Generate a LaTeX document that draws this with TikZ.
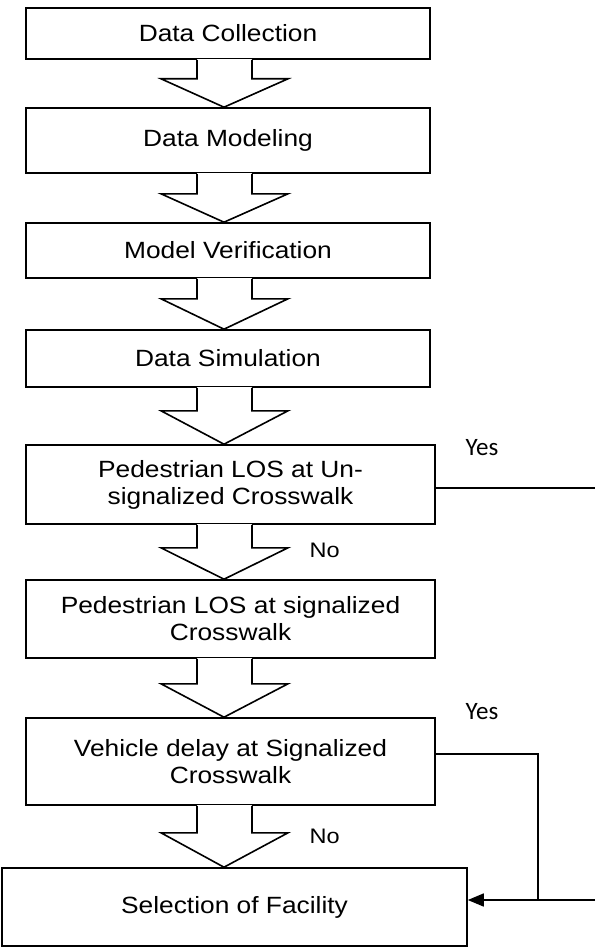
\documentclass[tikz,border=0pt]{standalone}
\usepackage{fontspec}
\setmainfont{Liberation Sans}[FakeStretch=1.12]
\newfontfamily\yesfont{Carlito}
\usetikzlibrary{arrows.meta,calc}
\tikzset{fat/.style={line width=1.6pt,line join=miter},
  flowbox/.style={draw,fat,inner sep=0pt,align=center,font=\fontsize{23.5}{27}\selectfont},
  yeslbl/.style={font=\yesfont\fontsize{25}{25}\selectfont},
  nolbl/.style={font=\fontsize{21}{21}\selectfont,anchor=west}
}
% hollow block arrow from box #1 down to box #2, shaft length #3
\newcommand{\fatarrow}[3]{%
  \path (197,0 |- #1.south) ++(0,#3) coordinate (sh);
  \fill[white] ($(197,0 |- #1.south)+(0,-1.2)$) rectangle (252,0 |- sh);
  \draw[fat] (197,0 |- #1.south) -- (sh) -- (161,0 |- sh) -- (224,0 |- #2.north)
    -- (288,0 |- sh) -- (252,0 |- sh) -- (252,0 |- #1.south);
}

\begin{document}
\begin{tikzpicture}[x=1pt,y=-1pt]
\useasboundingbox[fill=white] (0,0) rectangle (595,952);

% Boxes
\node[flowbox,minimum width=404,minimum height=51] (coll) at (228,33.5) {Data Collection};
\node[flowbox,minimum width=404,minimum height=65] (model) at (228,140.5) {Data Modeling};
\node[flowbox,minimum width=404,minimum height=55] (verif) at (228,250.5) {Model Verification};
\node[flowbox,minimum width=404,minimum height=57] (simul) at (228,358.5) {Data Simulation};
\node[flowbox,minimum width=409,minimum height=79] (unsig) at (230.5,484.5) {Pedestrian LOS at Un-\\signalized Crosswalk};
\node[flowbox,minimum width=409,minimum height=78] (sig) at (230.5,619) {Pedestrian LOS at signalized\\Crosswalk};
\node[flowbox,minimum width=409,minimum height=87] (veh) at (230.5,761.5) {Vehicle delay at Signalized\\Crosswalk};
\node[flowbox,minimum width=465,minimum height=78] (sel) at (234.5,907) {Selection of Facility};

% Block arrows
\fatarrow{coll}{model}{19}
\fatarrow{model}{verif}{20}
\fatarrow{verif}{simul}{20}
\fatarrow{simul}{unsig}{23}
\fatarrow{unsig}{sig}{23}
\fatarrow{sig}{veh}{25}
\fatarrow{veh}{sel}{27}

% Yes branches
\coordinate (rim1) at (595,488);
\draw[fat] (unsig.east |- rim1) -- (rim1);
\coordinate (vy) at (538,754);
\coordinate (bend) at (538,900);
\coordinate (rim2) at (595,900);
\draw[fat] (veh.east |- vy) -- (vy) -- (bend);
\draw[fat,-{Triangle[length=16pt,width=13pt]}] (rim2) -- (sel.east |- rim2);

% Labels
\node[yeslbl] (yes1) at (482,448) {Yes};
\node[yeslbl] (yes2) at (482,712) {Yes};
\node[nolbl] (no1) at (306,550) {No};
\node[nolbl] (no2) at (306,836) {No};
\end{tikzpicture}
\end{document}
